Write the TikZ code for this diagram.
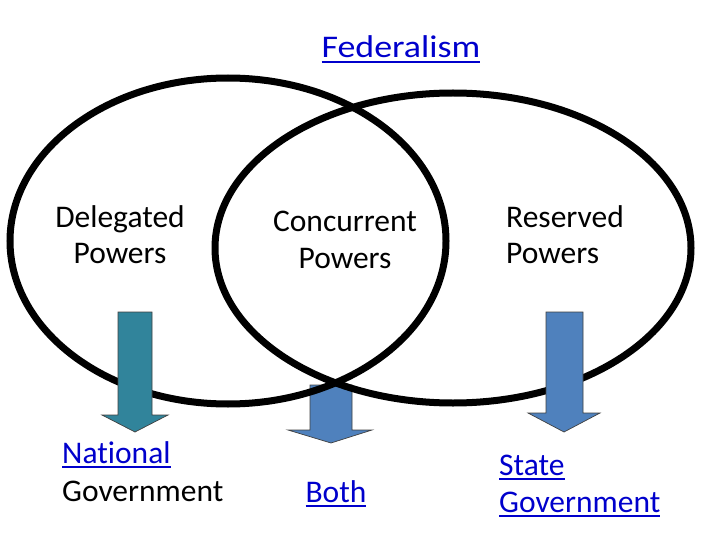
\documentclass[tikz,border=0pt]{standalone}
\usepackage{fontspec}
\setmainfont{Carlito}[Ligatures=CommonOff]
\definecolor{linkblue}{RGB}{0,0,204}
\definecolor{tealarrow}{HTML}{31849B}
\definecolor{bluearrow}{HTML}{4F81BD}
\newcommand\myul[1]{\setbox0\hbox{#1}\rlap{\rule[-5pt]{\wd0}{1.8pt}}\box0}
\tikzset{
  txt/.style={inner sep=0pt, font=\fontsize{31.5}{37}\selectfont, text=black},
  lnk/.style={txt, text=linkblue},
  ring/.style={draw=black, line width=7pt},
  blockarrow/.style={draw=black!75, line width=0.7pt},
}
\begin{document}
\begin{tikzpicture}[x=1pt,y=-1pt]
\useasboundingbox (0,0) rectangle (720,540);
\fill[white] (0,0) rectangle (720,540);
% middle arrow (under the rings)
\draw[blockarrow, fill=bluearrow] (310,385) -- (352,385) -- (352,430) -- (372,430) -- (331,443) -- (288,430) -- (310,430) -- cycle;
% rings
\draw[ring] (228,241) ellipse [x radius=218, y radius=163];
\draw[ring] (453,248) ellipse [x radius=238, y radius=155];
% side arrows
\draw[blockarrow, fill=tealarrow] (118,312) -- (152,312) -- (152,415) -- (168,415) -- (135,432) -- (102,415) -- (118,415) -- cycle;
\draw[blockarrow, fill=bluearrow] (546,312) -- (583,312) -- (583,413) -- (600,413) -- (564,432) -- (528,413) -- (546,413) -- cycle;
% texts
\node[lnk, anchor=base] (fed) at (401,58) {\scalebox{1.14}[1]{\myul{Federalism}}};
\node[txt, anchor=base] (del1) at (120,227) {Delegated};
\node[txt, anchor=base] (del2) at (120,263) {Powers};
\node[txt, anchor=base] (con1) at (345,231) {Concurrent};
\node[txt, anchor=base] (con2) at (345,268) {Powers};
\node[txt, anchor=base west] (res1) at (506,227) {Reserved};
\node[txt, anchor=base west] (res2) at (506,263) {Powers};
\node[lnk, anchor=base west] (nat1) at (62,463) {\myul{National}};
\node[txt, anchor=base west] (nat2) at (62,501) {Government};
\node[lnk, anchor=base] (both) at (336,502) {\myul{Both}};
\node[lnk, anchor=base west] (sta1) at (499,475) {\myul{State}};
\node[lnk, anchor=base west] (sta2) at (499,512) {\myul{Government}};
\end{tikzpicture}
\end{document}
